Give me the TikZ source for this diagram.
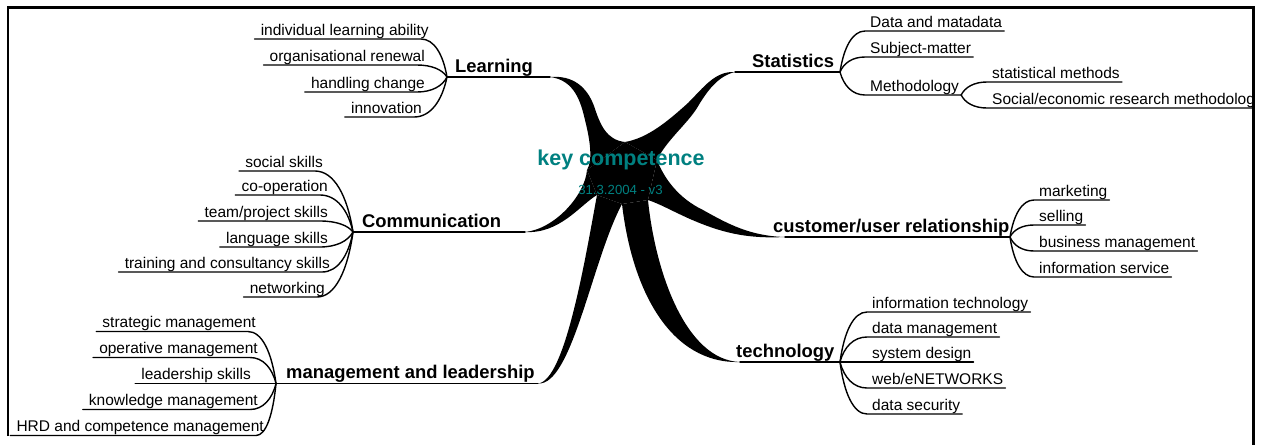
\documentclass[tikz,border=0pt]{standalone}
\usepackage{fontspec}
\setmainfont{Liberation Sans}
\usetikzlibrary{calc}
\definecolor{keyteal}{RGB}{0,128,128}
\tikzset{
  leaf/.style={font=\fontsize{15.5}{18}\selectfont, inner sep=0pt},
  topic/.style={font=\bfseries\fontsize{18.4}{22}\selectfont, inner sep=0pt},
  conn/.style={line width=1.4pt, line cap=round, line join=round},
  armfill/.style={fill=black},
  frameline/.style={line width=2.6pt},
  centertext/.style={font=\bfseries\fontsize{21.5}{26}\selectfont, text=keyteal, inner sep=0pt},
  datetext/.style={font=\fontsize{13.2}{16}\selectfont, text=keyteal, inner sep=0pt},
}
\newcommand\leafL[7]{%
  \pgfmathsetmacro\LfXs{#3-8}%
  \pgfmathsetmacro\LfA{(#6-\LfXs)*0.5}%
  \pgfmathsetmacro\LfB{-(#6-\LfXs)*0.15}%
  \pgfmathsetmacro\LfC{(#4-#7)*0.6}%
  \node[leaf, anchor=base east] (#1) at (#3,#4-4) {#2};
  \draw[conn] ($(#1.base west)+(-6,4)$) -- (\LfXs,#4) .. controls +(\LfA,0) and +(\LfB,\LfC) .. (#5);
}
\newcommand\leafR[7]{%
  \pgfmathsetmacro\LfXs{#3-5}%
  \pgfmathsetmacro\LfA{(\LfXs-#6)*0.15}%
  \pgfmathsetmacro\LfB{-(\LfXs-#6)*0.5}%
  \pgfmathsetmacro\LfC{(#4-#7)*0.6}%
  \node[leaf, anchor=base west] (#1) at (#3,#4-4) {#2};
  \draw[conn] (#5) .. controls +(\LfA,\LfC) and +(\LfB,0) .. (\LfXs,#4) -- ($(#1.base east)+(2,4)$);
}
\begin{document}
\begin{tikzpicture}[x=1pt,y=-1pt]
\useasboundingbox (0,0) rectangle (1261,445);
% star notches
\coordinate (N1) at (625,142);
\coordinate (N2) at (657,160);
\coordinate (N3) at (648,200);
\coordinate (N4) at (622,204);
\coordinate (N5) at (597,195);
\coordinate (N6) at (587,170);
% arm tips
\coordinate (tL) at (550,77);
\coordinate (tS) at (735,72);
\coordinate (tC) at (525,232);
\coordinate (tU) at (785,237);
\coordinate (tM) at (538,383.5);
\coordinate (tT) at (740,362);
% forks
\coordinate (fL) at (447,77);
\coordinate (fS) at (840,72);
\coordinate (fC) at (353,232);
\coordinate (fU) at (1010,237);
\coordinate (fM) at (276,383.5);
\coordinate (fT) at (840,362);

% star
\fill[armfill] (N1)--(N2)--(N3)--(N4)--(N5)--(N6)--cycle;
\fill[armfill] (N6) .. controls (593,160) and (590,140) .. (585,120) .. controls (581,103) and (575,80) .. (tL)
   .. controls (573,75) and (587,87) .. (594,106) .. controls (600,124) and (606,140) .. (N1) -- cycle;
\fill[armfill] (N1) .. controls (648,138) and (668,121) .. (688,103) .. controls (704,87) and (715,71) .. (tS)
   .. controls (718,76) and (707,91) .. (697,108) .. controls (687,124) and (666,141) .. (N2) -- cycle;
\fill[armfill] (N2) .. controls (664,178) and (678,198) .. (703,210) .. controls (728,224) and (750,236) .. (tU)
   .. controls (745,239) and (720,232) .. (690,219) .. controls (670,210) and (660,204) .. (N3) -- cycle;
\fill[armfill] (N3) .. controls (655,270) and (685,360) .. (tT) .. controls (670,364) and (632,290) .. (N4) -- cycle;
\fill[armfill] (N4) .. controls (592,260) and (572,386) .. (tM) .. controls (565,381) and (585,260) .. (N5) -- cycle;
\fill[armfill] (N5) .. controls (580,205) and (560,234) .. (tC) .. controls (555,229) and (585,195) .. (N6) -- cycle;

% topic underlines
\draw[conn] (fL) -- (tL);
\draw[conn] (tS) -- (fS);
\draw[conn] (fC) -- (tC);
\draw[conn] (tU) -- (fU);
\draw[conn] (fM) -- (tM);
\draw[conn] (tT) -- (fT);

% topics
\node[topic, anchor=base west] (learn) at (455,72) {Learning};
\node[topic, anchor=base west] (stat) at (752,67) {Statistics};
\node[topic, anchor=base west] (comm) at (362,227) {Communication};
\node[topic, anchor=base west] (cust) at (773,232) {customer/user relationship};
\node[topic, anchor=base west] (mgmt) at (286,378.5) {management and leadership};
\node[topic, anchor=base west] (tech) at (736,357) {technology};

% Learning leaves
\leafL{L1}{individual learning ability}{429}{39}{fL}{447}{77}
\leafL{L2}{organisational renewal}{425}{65}{fL}{447}{77}
\leafL{L3}{handling change}{425}{92}{fL}{447}{77}
\leafL{L4}{innovation}{422}{117}{fL}{447}{77}

% Communication leaves
\leafL{C1}{social skills}{323}{171}{fC}{353}{232}
\leafL{C2}{co-operation}{328}{195}{fC}{353}{232}
\leafL{C3}{team/project skills}{328}{221}{fC}{353}{232}
\leafL{C4}{language skills}{328}{247}{fC}{353}{232}
\leafL{C5}{training and consultancy skills}{330}{272}{fC}{353}{232}
\leafL{C6}{networking}{325}{297}{fC}{353}{232}

% Management leaves
\leafL{M1}{strategic management}{256}{331.5}{fM}{276}{383.5}
\leafL{M2}{operative management}{258}{357.5}{fM}{276}{383.5}
\leafL{M3}{leadership skills}{251}{383.5}{fM}{276}{383.5}
\leafL{M4}{knowledge management}{258}{409.5}{fM}{276}{383.5}
\leafL{M5}{HRD and competence management}{264}{435.5}{fM}{276}{383.5}

% Statistics leaves
\leafR{S1}{Data and matadata}{870}{31}{fS}{840}{72}
\leafR{S2}{Subject-matter}{870}{57}{fS}{840}{72}
\leafR{S3}{Methodology}{870}{95}{fS}{840}{72}
\coordinate (fMe) at ($(S3.base east)+(2,4)$);
\leafR{S4}{statistical methods}{992}{82}{fMe}{961}{95}
\begin{scope}
\clip (0,0) rectangle (1252.5,445);
\leafR{S5}{Social/economic research methodology}{992}{108}{fMe}{961}{95}
\end{scope}

% Customer leaves
\leafR{U1}{marketing}{1039}{200}{fU}{1010}{237}
\leafR{U2}{selling}{1039}{225}{fU}{1010}{237}
\leafR{U3}{business management}{1039}{251}{fU}{1010}{237}
\leafR{U4}{information service}{1039}{277}{fU}{1010}{237}

% Technology leaves
\leafR{T1}{information technology}{872}{312}{fT}{840}{362}
\leafR{T2}{data management}{872}{337}{fT}{840}{362}
\leafR{T3}{system design}{872}{362}{fT}{840}{362}
\leafR{T4}{web/eNETWORKS}{872}{388}{fT}{840}{362}
\leafR{T5}{data security}{872}{414}{fT}{840}{362}

% frame
\draw[frameline] (8,436) -- (8,7.5) -- (1253.5,7.5) -- (1253.5,445);

% central topic
\node[centertext, anchor=base] (kc) at (621,165) {key competence};
\node[datetext, anchor=base] (date) at (620.5,194) {31.3.2004 - v3};
\end{tikzpicture}
\end{document}
